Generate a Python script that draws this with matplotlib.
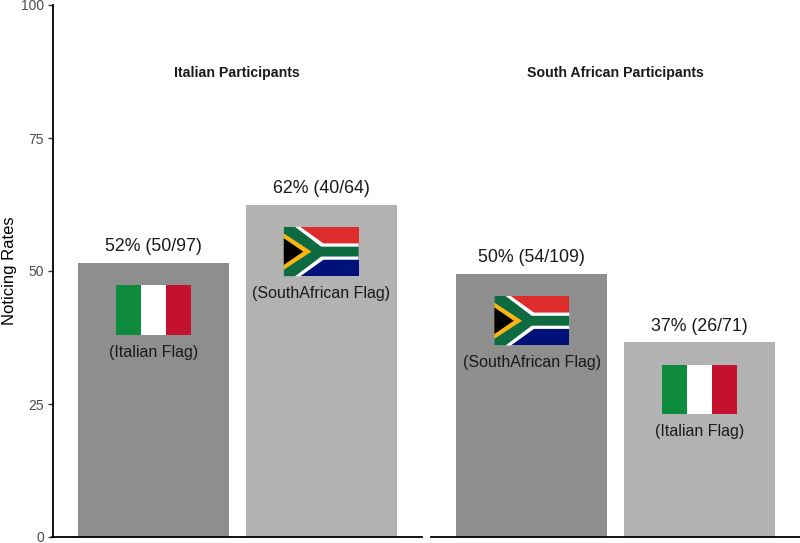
import matplotlib
matplotlib.use("Agg")
import matplotlib.pyplot as plt
from matplotlib.patches import Polygon, Rectangle

plt.rcParams["font.family"] = ["Liberation Sans", "DejaVu Sans"]

W, H = 800, 543

# ── Data ──────────────────────────────────────────────────────────────
panel_titles = ["Italian Participants", "South African Participants"]
left_rates = [51.5, 62.5]
right_rates = [49.5, 36.6]
left_labels = ["52% (50/97)", "62% (40/64)"]
right_labels = ["50% (54/109)", "37% (26/71)"]
left_flags = ["italy", "sa"]
right_flags = ["sa", "italy"]
flag_names = {"italy": "(Italian Flag)", "sa": "(SouthAfrican Flag)"}
y_ticks = [0, 25, 50, 75, 100]

BAR_COLORS = ["#8E8E8E", "#B2B2B2"]
ITALY = ["#0F8B3D", "#FFFFFF", "#C4122E"]
SA_RED, SA_BLUE, SA_GREEN = "#DD2C2C", "#00127A", "#0E6B41"
SA_GOLD, SA_WHITE = "#FDB515", "#FFFFFF"

FLAG_W = 0.446    # x units (75 px)
FLAG_H = 9.3      # y units (50 px)
FLAG_GAP = 4.2    # bar top to flag top


def draw_flag(ax, cx, top, kind):
    x0, y0 = cx - FLAG_W / 2, top - FLAG_H

    def to_data(pts):
        return [(x0 + px * FLAG_W, y0 + py * FLAG_H) for px, py in pts]

    def poly(pts, color):
        ax.add_patch(Polygon(to_data(pts), closed=True, fc=color, ec="none", zorder=3))

    if kind == "italy":
        for i, color in enumerate(ITALY):
            ax.add_patch(Rectangle((x0 + i * FLAG_W / 3, y0), FLAG_W / 3, FLAG_H,
                                   fc=color, ec="none", zorder=3))
        return

    poly([(0, 0.5), (1, 0.5), (1, 1), (0, 1)], SA_RED)
    poly([(0, 0), (1, 0), (1, 0.5), (0, 0.5)], SA_BLUE)
    poly([(0, 1), (0.22, 1), (0.53, 0.665), (1, 0.665), (1, 0.335),
          (0.53, 0.335), (0.22, 0), (0, 0)], SA_WHITE)
    poly([(0, 1), (0.15, 1), (0.5, 0.60), (1, 0.60), (1, 0.40),
          (0.5, 0.40), (0.15, 0), (0, 0)], SA_GREEN)
    poly([(0, 0.866), (0.37, 0.5), (0, 0.134)], SA_GOLD)
    poly([(0, 0.77), (0.26, 0.5), (0, 0.23)], "black")


def draw_panel(ax, title, rates, labels, flags):
    positions = [1, 2]
    ax.bar(positions, rates, width=0.9, color=BAR_COLORS, zorder=2)
    for x, rate, label, flag in zip(positions, rates, labels, flags):
        ax.annotate(label, (x, rate), xytext=(0, 5.5), textcoords="offset points",
                    ha="center", va="bottom", fontsize=12.8, color="#1A1A1A")
        flag_top = rate - FLAG_GAP
        draw_flag(ax, x, flag_top, flag)
        ax.annotate(flag_names[flag], (x, flag_top - FLAG_H), xytext=(0, -7),
                    textcoords="offset points", ha="center", va="top",
                    fontsize=11.5, color="#1A1A1A")
    ax.text(1.5, 87.2, title, ha="center", va="center", fontsize=10.2,
            fontweight="bold", color="#1A1A1A")
    ax.set_xlim(0.4, 2.6)
    ax.set_ylim(0, 100)
    ax.set_xticks([])
    for side in ["top", "right"]:
        ax.spines[side].set_visible(False)
    ax.spines["bottom"].set_linewidth(1.3)
    ax.spines["left"].set_linewidth(1.3)


def panel_axes(fig, left_px, right_px):
    top_px, bottom_px = 5, 537
    return fig.add_axes([left_px / W, 1 - bottom_px / H,
                         (right_px - left_px) / W, (bottom_px - top_px) / H])


def main():
    fig = plt.figure(figsize=(W / 100, H / 100), dpi=100)
    ax1 = panel_axes(fig, 52.5, 422)
    ax2 = panel_axes(fig, 431, 800.5)

    draw_panel(ax1, panel_titles[0], left_rates, left_labels, left_flags)
    draw_panel(ax2, panel_titles[1], right_rates, right_labels, right_flags)

    ax1.set_yticks(y_ticks)
    ax1.tick_params(axis="y", length=3.5, width=1, color="#333333",
                    labelcolor="#4D4D4D", labelsize=10, pad=2.5)
    ax1.set_ylabel("Noticing Rates", fontsize=12, color="black")
    ax1.yaxis.set_label_coords((17 - 52.5) / (422 - 52.5), 0.5)

    ax2.set_yticks([])
    ax2.spines["left"].set_visible(False)

    fig.savefig("out.png", dpi=100)


if __name__ == "__main__":
    main()
